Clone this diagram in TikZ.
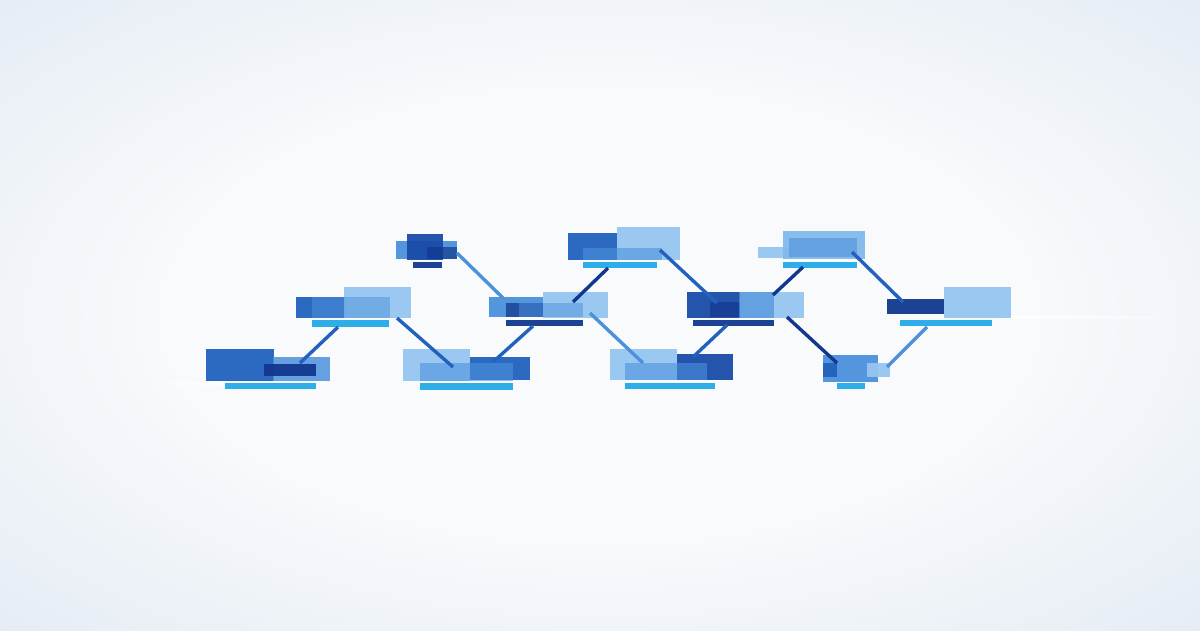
\documentclass[tikz,border=0pt]{standalone}
\usepackage{tikz}
\usepackage{xcolor}
\usetikzlibrary{positioning,fadings}
\definecolor{flowbg}{RGB}{248,250,252}
\definecolor{flowedge}{RGB}{218,228,240}
\definecolor{flowcorner}{RGB}{190,208,230}
\definecolor{flownavy}{RGB}{18,56,142}
\definecolor{flowdeep}{RGB}{26,76,168}
\definecolor{flowblue}{RGB}{34,98,190}
\definecolor{flowmid}{RGB}{76,145,220}
\definecolor{flowlight}{RGB}{150,198,240}
\definecolor{flowcyan}{RGB}{36,170,232}
\pgfdeclareradialshading{flowglow}{\pgfpoint{0bp}{0bp}}{color(0bp)=(flowbg); color(18bp)=(flowbg); color(46bp)=(flowedge); color(72bp)=(flowcorner)}

\tikzset{
  tile/.style={anchor=north west, inner sep=0pt, outer sep=0pt, draw=none, fill opacity=0.95},
  link/.style={line width=3.4pt}
}

\begin{document}
\begin{tikzpicture}[x=1pt, y=-1pt]
        \useasboundingbox (0,0) rectangle (1200,630);
        % Background
        \shade[shading=flowglow] (0,0) rectangle (1200,630);
        \fill[white, path fading=west] (130,382) rectangle (240,385);
        \fill[white, path fading=east] (1000,316) rectangle (1200,319);

        % Cluster a (bottom left)
        \node [tile, fill=flowblue, minimum width=68pt, minimum height=32pt] (a-base) at (206,349) {};
        \node [tile, fill=flowmid, fill opacity=0.85, minimum width=57pt, minimum height=24pt] (a-over) at (273,357) {};
        \node [tile, fill=flownavy, minimum width=52pt, minimum height=12pt] (a-core) at (264,364) {};
        \node [tile, fill=flowcyan, minimum width=91pt, minimum height=6pt] (a-bar) at (225,383) {};

        % Cluster b
        \node [tile, fill=flowblue, minimum width=49pt, minimum height=21pt] (b-base) at (296,297) {};
        \node [tile, fill=flowlight, minimum width=67pt, minimum height=31pt] (b-over) at (344,287) {};
        \node [tile, fill=flowmid, fill opacity=0.5, minimum width=78pt, minimum height=21pt] (b-mid) at (312,297) {};
        \node [tile, fill=flowcyan, minimum width=77pt, minimum height=7pt] (b-bar) at (312,320) {};

        % Cluster c (top)
        \node [tile, fill=flowmid, minimum width=61pt, minimum height=18pt] (c-wide) at (396,241) {};
        \node [tile, fill=flowdeep, minimum width=36pt, minimum height=26pt] (c-base) at (407,234) {};
        \node [tile, fill=flownavy, fill opacity=0.7, minimum width=30pt, minimum height=12pt] (c-core) at (427,247) {};
        \node [tile, fill=flownavy, minimum width=29pt, minimum height=6pt] (c-bar) at (413,262) {};

        % Cluster d
        \node [tile, fill=flowlight, minimum width=67pt, minimum height=32pt] (d-base) at (403,349) {};
        \node [tile, fill=flowblue, minimum width=60pt, minimum height=23pt] (d-over) at (470,357) {};
        \node [tile, fill=flowmid, fill opacity=0.6, minimum width=93pt, minimum height=18pt] (d-mid) at (420,363) {};
        \node [tile, fill=flowcyan, minimum width=93pt, minimum height=7pt] (d-bar) at (420,383) {};

        % Cluster e
        \node [tile, fill=flowmid, minimum width=54pt, minimum height=20pt] (e-base) at (489,297) {};
        \node [tile, fill=flowlight, minimum width=65pt, minimum height=26pt] (e-over) at (543,292) {};
        \node [tile, fill=flownavy, fill opacity=0.75, minimum width=37pt, minimum height=14pt] (e-core) at (506,303) {};
        \node [tile, fill=flowmid, fill opacity=0.5, minimum width=64pt, minimum height=14pt] (e-mid) at (519,303) {};
        \node [tile, fill=flownavy, minimum width=77pt, minimum height=6pt] (e-bar) at (506,320) {};

        % Cluster f (top)
        \node [tile, fill=flowblue, minimum width=49pt, minimum height=27pt] (f-base) at (568,233) {};
        \node [tile, fill=flowlight, minimum width=63pt, minimum height=33pt] (f-over) at (617,227) {};
        \node [tile, fill=flowmid, fill opacity=0.6, minimum width=79pt, minimum height=12pt] (f-mid) at (583,248) {};
        \node [tile, fill=flowcyan, minimum width=74pt, minimum height=6pt] (f-bar) at (583,262) {};

        % Cluster g
        \node [tile, fill=flowlight, minimum width=67pt, minimum height=31pt] (g-base) at (610,349) {};
        \node [tile, fill=flowdeep, minimum width=56pt, minimum height=26pt] (g-over) at (677,354) {};
        \node [tile, fill=flowmid, fill opacity=0.6, minimum width=82pt, minimum height=17pt] (g-mid) at (625,363) {};
        \node [tile, fill=flowcyan, minimum width=90pt, minimum height=6pt] (g-bar) at (625,383) {};

        % Cluster h
        \node [tile, fill=flowdeep, minimum width=53pt, minimum height=26pt] (h-base) at (687,292) {};
        \node [tile, fill=flownavy, fill opacity=0.7, minimum width=30pt, minimum height=15pt] (h-core) at (710,302) {};
        \node [tile, fill=flowlight, minimum width=64pt, minimum height=26pt] (h-over) at (740,292) {};
        \node [tile, fill=flowmid, fill opacity=0.7, minimum width=35pt, minimum height=26pt] (h-mid) at (739,292) {};
        \node [tile, fill=flownavy, minimum width=81pt, minimum height=6pt] (h-bar) at (693,320) {};

        % Cluster i (top)
        \node [tile, fill=flowlight, minimum width=34pt, minimum height=11pt] (i-left) at (758,247) {};
        \node [tile, fill=flowlight!75!flowmid, minimum width=82pt, minimum height=28pt] (i-base) at (783,231) {};
        \node [tile, fill=flowmid, fill opacity=0.6, minimum width=68pt, minimum height=19pt] (i-mid) at (789,238) {};
        \node [tile, fill=flowcyan, minimum width=74pt, minimum height=6pt] (i-bar) at (783,262) {};

        % Cluster j (right)
        \node [tile, fill=flownavy, minimum width=57pt, minimum height=15pt] (j-base) at (887,299) {};
        \node [tile, fill=flowlight, minimum width=67pt, minimum height=31pt] (j-over) at (944,287) {};
        \node [tile, fill=flowcyan, minimum width=92pt, minimum height=6pt] (j-bar) at (900,320) {};

        % Cluster k
        \node [tile, fill=flowmid, minimum width=55pt, minimum height=27pt] (k-base) at (823,355) {};
        \node [tile, fill=flowblue, minimum width=14pt, minimum height=14pt] (k-core) at (823,363) {};
        \node [tile, fill=flowlight, minimum width=23pt, minimum height=14pt] (k-side) at (867,363) {};
        \node [tile, fill=flowcyan, minimum width=28pt, minimum height=6pt] (k-bar) at (837,383) {};

        % Link ends
        \coordinate (a-up) at (300,363);   \coordinate (b-dn) at (338,327);
        \coordinate (b-rt) at (397,318);   \coordinate (d-up) at (453,367);
        \coordinate (c-rt) at (457,253);   \coordinate (e-lt) at (503,298);
        \coordinate (d-rt) at (493,362);   \coordinate (e-dn) at (533,326);
        \coordinate (e-up) at (573,302);   \coordinate (f-dn) at (608,268);
        \coordinate (e-rt) at (590,313);   \coordinate (g-up) at (643,363);
        \coordinate (f-rt) at (660,250);   \coordinate (h-lt) at (717,303);
        \coordinate (g-rt) at (693,357);   \coordinate (h-dn) at (727,325);
        \coordinate (h-up) at (773,295);   \coordinate (i-dn) at (803,267);
        \coordinate (h-rt) at (787,317);   \coordinate (k-up) at (837,363);
        \coordinate (i-rt) at (852,252);   \coordinate (j-lt) at (903,302);
        \coordinate (k-rt) at (887,367);   \coordinate (j-dn) at (927,327);

        % Links
        \draw [link, flowblue] (a-up) -- (b-dn);
        \draw [link, flowblue] (b-rt) -- (d-up);
        \draw [link, flowmid] (c-rt) -- (e-lt);
        \draw [link, flowblue] (d-rt) -- (e-dn);
        \draw [link, flownavy] (e-up) -- (f-dn);
        \draw [link, flowmid] (e-rt) -- (g-up);
        \draw [link, flowblue] (f-rt) -- (h-lt);
        \draw [link, flowblue] (g-rt) -- (h-dn);
        \draw [link, flownavy] (h-up) -- (i-dn);
        \draw [link, flownavy] (h-rt) -- (k-up);
        \draw [link, flowblue] (i-rt) -- (j-lt);
        \draw [link, flowmid] (k-rt) -- (j-dn);
    \end{tikzpicture}
\end{document}
